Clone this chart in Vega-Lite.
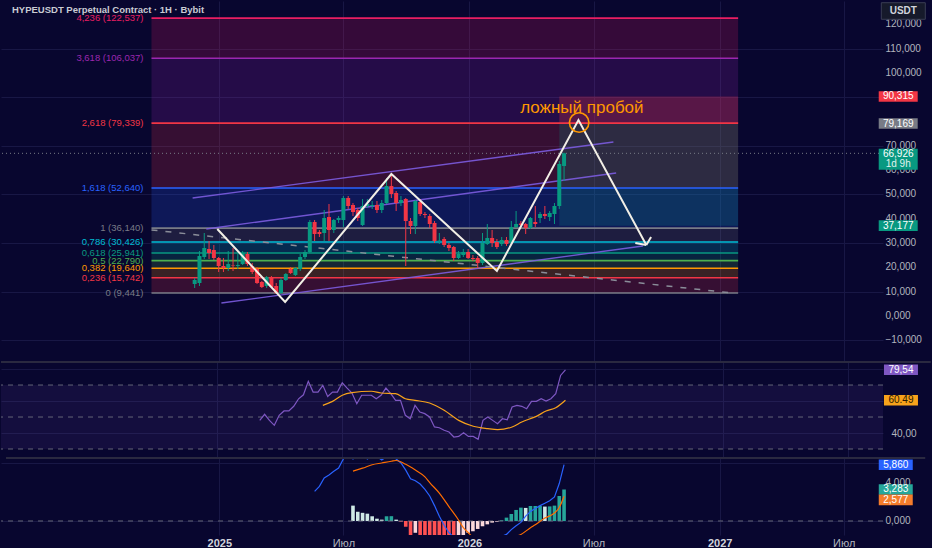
{
  "$schema": "https://vega.github.io/schema/vega-lite/v6.json",
  "background": "#08062f",
  "padding": 0,
  "spacing": 0,
  "config": {
    "view": {"stroke": null},
    "axis": {"labelFont": "Liberation Sans", "labelFontSize": 10, "labelColor": "#b2b5be", "gridColor": "#181745", "gridWidth": 1, "domain": false, "ticks": false, "labelOverlap": false},
    "text": {"font": "Liberation Sans"}
  },
  "datasets": {
    "candles": [
      {"d": "2024-11-26", "o": 13165, "h": 15633, "l": 11519, "c": 14810},
      {"d": "2024-12-03", "o": 13576, "h": 26741, "l": 12342, "c": 24684},
      {"d": "2024-12-10", "o": 24273, "h": 34146, "l": 23450, "c": 27975},
      {"d": "2024-12-17", "o": 27564, "h": 30855, "l": 23450, "c": 25918},
      {"d": "2024-12-24", "o": 27152, "h": 29209, "l": 23038, "c": 23861},
      {"d": "2024-12-31", "o": 23861, "h": 24273, "l": 18102, "c": 20570},
      {"d": "2025-01-07", "o": 20570, "h": 23861, "l": 18102, "c": 19747},
      {"d": "2025-01-14", "o": 19747, "h": 26741, "l": 18513, "c": 21393},
      {"d": "2025-01-21", "o": 20981, "h": 27975, "l": 18513, "c": 20776},
      {"d": "2025-01-28", "o": 20570, "h": 25507, "l": 19336, "c": 20981},
      {"d": "2025-02-04", "o": 21393, "h": 26741, "l": 20981, "c": 25918},
      {"d": "2025-02-11", "o": 25507, "h": 26330, "l": 20570, "c": 21393},
      {"d": "2025-02-18", "o": 20570, "h": 21804, "l": 17279, "c": 18102},
      {"d": "2025-02-25", "o": 19336, "h": 20159, "l": 13165, "c": 13576},
      {"d": "2025-03-04", "o": 13988, "h": 14399, "l": 11519, "c": 11931},
      {"d": "2025-03-11", "o": 12342, "h": 16456, "l": 11519, "c": 16045},
      {"d": "2025-03-18", "o": 15633, "h": 16456, "l": 11519, "c": 11931},
      {"d": "2025-03-25", "o": 12342, "h": 13576, "l": 9051, "c": 9462},
      {"d": "2025-04-01", "o": 9462, "h": 15633, "l": 9051, "c": 14810},
      {"d": "2025-04-08", "o": 14810, "h": 17690, "l": 14399, "c": 17279},
      {"d": "2025-04-15", "o": 19336, "h": 20159, "l": 17279, "c": 17690},
      {"d": "2025-04-22", "o": 16867, "h": 20159, "l": 16456, "c": 19747},
      {"d": "2025-04-29", "o": 19336, "h": 25507, "l": 18513, "c": 24273},
      {"d": "2025-05-06", "o": 24273, "h": 27152, "l": 23450, "c": 26330},
      {"d": "2025-05-13", "o": 26330, "h": 39494, "l": 25918, "c": 38672},
      {"d": "2025-05-20", "o": 38672, "h": 39494, "l": 30855, "c": 33735},
      {"d": "2025-05-27", "o": 34558, "h": 35380, "l": 32501, "c": 33735},
      {"d": "2025-06-03", "o": 34146, "h": 43608, "l": 30855, "c": 40317},
      {"d": "2025-06-10", "o": 40729, "h": 46077, "l": 30855, "c": 35380},
      {"d": "2025-06-17", "o": 35380, "h": 39906, "l": 34146, "c": 39494},
      {"d": "2025-06-24", "o": 39494, "h": 41140, "l": 38260, "c": 40317},
      {"d": "2025-07-01", "o": 39494, "h": 49368, "l": 36615, "c": 48545},
      {"d": "2025-07-08", "o": 48545, "h": 49368, "l": 44020, "c": 45254},
      {"d": "2025-07-15", "o": 45665, "h": 46488, "l": 41140, "c": 42786},
      {"d": "2025-07-22", "o": 43608, "h": 44431, "l": 39083, "c": 40317},
      {"d": "2025-07-29", "o": 37437, "h": 48134, "l": 37026, "c": 45254},
      {"d": "2025-08-05", "o": 45254, "h": 48134, "l": 44431, "c": 46077},
      {"d": "2025-08-12", "o": 45254, "h": 47311, "l": 44020, "c": 45665},
      {"d": "2025-08-19", "o": 45665, "h": 47311, "l": 42374, "c": 43608},
      {"d": "2025-08-26", "o": 43608, "h": 47722, "l": 42374, "c": 46488},
      {"d": "2025-09-02", "o": 46488, "h": 56773, "l": 46077, "c": 53482},
      {"d": "2025-09-09", "o": 53482, "h": 58419, "l": 48545, "c": 50191},
      {"d": "2025-09-16", "o": 50602, "h": 51425, "l": 43197, "c": 46488},
      {"d": "2025-09-23", "o": 46488, "h": 49368, "l": 45254, "c": 47722},
      {"d": "2025-09-30", "o": 48134, "h": 48545, "l": 20570, "c": 39083},
      {"d": "2025-10-07", "o": 39083, "h": 40317, "l": 33735, "c": 37026},
      {"d": "2025-10-14", "o": 37026, "h": 47722, "l": 33735, "c": 47311},
      {"d": "2025-10-21", "o": 46900, "h": 48134, "l": 41140, "c": 41963},
      {"d": "2025-10-28", "o": 41963, "h": 42786, "l": 40317, "c": 41551},
      {"d": "2025-11-04", "o": 41140, "h": 41963, "l": 36203, "c": 37849},
      {"d": "2025-11-11", "o": 38260, "h": 39083, "l": 30032, "c": 30855},
      {"d": "2025-11-18", "o": 31060, "h": 34146, "l": 29621, "c": 31266},
      {"d": "2025-11-25", "o": 31678, "h": 32501, "l": 28387, "c": 29209},
      {"d": "2025-12-02", "o": 29209, "h": 30032, "l": 26741, "c": 27975},
      {"d": "2025-12-09", "o": 28387, "h": 28798, "l": 22627, "c": 23861},
      {"d": "2025-12-16", "o": 23861, "h": 26741, "l": 23450, "c": 25507},
      {"d": "2025-12-23", "o": 25095, "h": 27564, "l": 24273, "c": 26330},
      {"d": "2025-12-30", "o": 26330, "h": 27564, "l": 23450, "c": 23861},
      {"d": "2026-01-06", "o": 23861, "h": 25095, "l": 22627, "c": 23450},
      {"d": "2026-01-13", "o": 23861, "h": 24684, "l": 19747, "c": 21804},
      {"d": "2026-01-20", "o": 21804, "h": 34146, "l": 20981, "c": 30032},
      {"d": "2026-01-27", "o": 29621, "h": 37849, "l": 29209, "c": 32089},
      {"d": "2026-02-03", "o": 32089, "h": 35380, "l": 28387, "c": 30032},
      {"d": "2026-02-10", "o": 30444, "h": 31678, "l": 27564, "c": 28387},
      {"d": "2026-02-17", "o": 29621, "h": 32501, "l": 28798, "c": 31266},
      {"d": "2026-02-24", "o": 31266, "h": 32501, "l": 28798, "c": 29621},
      {"d": "2026-03-03", "o": 30032, "h": 39083, "l": 29621, "c": 36615},
      {"d": "2026-03-10", "o": 36615, "h": 43197, "l": 36203, "c": 37849},
      {"d": "2026-03-17", "o": 38055, "h": 39083, "l": 36615, "c": 37437},
      {"d": "2026-03-24", "o": 37849, "h": 38260, "l": 33735, "c": 36203},
      {"d": "2026-03-31", "o": 36203, "h": 40729, "l": 35792, "c": 40317},
      {"d": "2026-04-07", "o": 38672, "h": 45254, "l": 36615, "c": 37849},
      {"d": "2026-04-14", "o": 40317, "h": 42786, "l": 38260, "c": 41963},
      {"d": "2026-04-21", "o": 41963, "h": 45254, "l": 39906, "c": 41140},
      {"d": "2026-04-28", "o": 40729, "h": 43197, "l": 39083, "c": 42374},
      {"d": "2026-05-05", "o": 41963, "h": 46488, "l": 37849, "c": 45254},
      {"d": "2026-05-12", "o": 45254, "h": 63767, "l": 44020, "c": 62533},
      {"d": "2026-05-19", "o": 61710, "h": 67182, "l": 55539, "c": 66926}
    ],
    "fib": [
      {"level": "0", "p": 9441, "label": "0 (9,441)"},
      {"level": "0.236", "p": 15742, "label": "0,236 (15,742)"},
      {"level": "0.382", "p": 19640, "label": "0,382 (19,640)"},
      {"level": "0.5", "p": 22790, "label": "0,5 (22,790)"},
      {"level": "0.618", "p": 25941, "label": "0,618 (25,941)"},
      {"level": "0.786", "p": 30426, "label": "0,786 (30,426)"},
      {"level": "1", "p": 36140, "label": "1 (36,140)"},
      {"level": "1.618", "p": 52640, "label": "1,618 (52,640)"},
      {"level": "2.618", "p": 79339, "label": "2,618 (79,339)"},
      {"level": "3.618", "p": 106037, "label": "3,618 (106,037)"},
      {"level": "4.236", "p": 122537, "label": "4,236 (122,537)"}
    ],
    "zones": [
      {"level": "0.236", "lo": 9441, "hi": 15742},
      {"level": "0.382", "lo": 15742, "hi": 19640},
      {"level": "0.5", "lo": 19640, "hi": 22790},
      {"level": "0.618", "lo": 22790, "hi": 25941},
      {"level": "0.786", "lo": 25941, "hi": 30426},
      {"level": "1", "lo": 30426, "hi": 36140},
      {"level": "1.618", "lo": 36140, "hi": 52640},
      {"level": "2.618", "lo": 52640, "hi": 79339},
      {"level": "3.618", "lo": 79339, "hi": 106037},
      {"level": "4.236", "lo": 106037, "hi": 122537}
    ],
    "pos": [
      {"kind": "stop", "lo": 79169, "hi": 90315},
      {"kind": "target", "lo": 37177, "hi": 79169}
    ],
    "lines": [
      {"id": "A", "d": "2024-11-23", "p": 48545}, {"id": "A", "d": "2026-07-30", "p": 71584},
      {"id": "B", "d": "2024-12-13", "p": 35792}, {"id": "B", "d": "2026-08-03", "p": 58830},
      {"id": "C", "d": "2025-01-04", "p": 5348}, {"id": "C", "d": "2026-09-11", "p": 28798},
      {"id": "D", "d": "2024-09-24", "p": 35400}, {"id": "D", "d": "2027-01-19", "p": 9462}
    ],
    "zig": [
      {"seg": "z", "o": 1, "d": "2024-12-29", "p": 35800},
      {"seg": "z", "o": 2, "d": "2025-04-07", "p": 5760},
      {"seg": "z", "o": 3, "d": "2025-09-09", "p": 58419},
      {"seg": "z", "o": 4, "d": "2026-02-10", "p": 18513},
      {"seg": "z", "o": 5, "d": "2026-06-09", "p": 80634},
      {"seg": "z", "o": 6, "d": "2026-09-16", "p": 29209},
      {"seg": "a1", "o": 1, "d": "2026-08-31", "p": 30032},
      {"seg": "a1", "o": 2, "d": "2026-09-16", "p": 29209},
      {"seg": "a2", "o": 1, "d": "2026-09-23", "p": 32501},
      {"seg": "a2", "o": 2, "d": "2026-09-16", "p": 29209}
    ],
    "yticks": [
      {"v": -10000, "t": "−10,000"}, {"v": 0, "t": "0,000"}, {"v": 10000, "t": "10,000"},
      {"v": 20000, "t": "20,000"}, {"v": 30000, "t": "30,000"}, {"v": 40000, "t": "40,000"},
      {"v": 50000, "t": "50,000"}, {"v": 60000, "t": "60,000"}, {"v": 70000, "t": "70,000"},
      {"v": 100000, "t": "100,000"}, {"v": 110000, "t": "110,000"}, {"v": 120000, "t": "120,000"}
    ],
    "badges": [
      {"p": 90315, "t": "90,315", "k": "s"},
      {"p": 79169, "t": "79,169", "k": "e"},
      {"p": 37177, "t": "37,177", "k": "g"}
    ],
    "rsi": [
      {"d": "2025-03-04", "v": 47.9}, {"d": "2025-03-11", "v": 51.7}, {"d": "2025-03-18", "v": 47.9},
      {"d": "2025-03-25", "v": 44.8}, {"d": "2025-04-01", "v": 51.1}, {"d": "2025-04-08", "v": 53.8},
      {"d": "2025-04-15", "v": 53.8}, {"d": "2025-04-22", "v": 56.7}, {"d": "2025-04-29", "v": 61.4},
      {"d": "2025-05-06", "v": 63.9}, {"d": "2025-05-13", "v": 72.3}, {"d": "2025-05-20", "v": 65.6},
      {"d": "2025-05-27", "v": 65.6}, {"d": "2025-06-03", "v": 69.8}, {"d": "2025-06-10", "v": 62.9},
      {"d": "2025-06-17", "v": 65.6}, {"d": "2025-06-24", "v": 65.6}, {"d": "2025-07-01", "v": 71.4},
      {"d": "2025-07-08", "v": 68.1}, {"d": "2025-07-15", "v": 65.0}, {"d": "2025-07-22", "v": 58.3},
      {"d": "2025-07-29", "v": 63.6}, {"d": "2025-08-05", "v": 63.6}, {"d": "2025-08-12", "v": 63.6},
      {"d": "2025-08-19", "v": 61.4}, {"d": "2025-08-26", "v": 63.6}, {"d": "2025-09-02", "v": 68.1},
      {"d": "2025-09-09", "v": 64.6}, {"d": "2025-09-16", "v": 60.4}, {"d": "2025-09-23", "v": 60.4},
      {"d": "2025-09-30", "v": 51.1}, {"d": "2025-10-07", "v": 48.9}, {"d": "2025-10-14", "v": 57.3},
      {"d": "2025-10-21", "v": 53.1}, {"d": "2025-10-28", "v": 52.1}, {"d": "2025-11-04", "v": 50.0},
      {"d": "2025-11-11", "v": 43.8}, {"d": "2025-11-18", "v": 43.3}, {"d": "2025-11-25", "v": 41.7},
      {"d": "2025-12-02", "v": 40.6}, {"d": "2025-12-09", "v": 37.5}, {"d": "2025-12-16", "v": 37.9},
      {"d": "2025-12-23", "v": 40.2}, {"d": "2025-12-30", "v": 37.9}, {"d": "2026-01-06", "v": 37.9},
      {"d": "2026-01-13", "v": 36.1}, {"d": "2026-01-20", "v": 47.9}, {"d": "2026-01-27", "v": 50.0},
      {"d": "2026-02-03", "v": 47.9}, {"d": "2026-02-10", "v": 45.8}, {"d": "2026-02-17", "v": 48.9},
      {"d": "2026-02-24", "v": 48.3}, {"d": "2026-03-03", "v": 56.3}, {"d": "2026-03-10", "v": 57.3},
      {"d": "2026-03-17", "v": 56.7}, {"d": "2026-03-24", "v": 55.2}, {"d": "2026-03-31", "v": 59.8},
      {"d": "2026-04-07", "v": 59.8}, {"d": "2026-04-14", "v": 61.4}, {"d": "2026-04-21", "v": 60.0},
      {"d": "2026-04-28", "v": 61.4}, {"d": "2026-05-05", "v": 64.6}, {"d": "2026-05-12", "v": 76.0},
      {"d": "2026-05-19", "v": 79.54}
    ],
    "rsima": [
      {"d": "2025-06-03", "v": 57.3}, {"d": "2025-06-17", "v": 59.8}, {"d": "2025-07-01", "v": 63.6},
      {"d": "2025-07-15", "v": 65.2}, {"d": "2025-08-12", "v": 66.1}, {"d": "2025-08-26", "v": 65.0},
      {"d": "2025-09-16", "v": 64.6}, {"d": "2025-09-30", "v": 61.4}, {"d": "2025-10-14", "v": 60.4},
      {"d": "2025-11-04", "v": 58.75}, {"d": "2025-11-25", "v": 54.2}, {"d": "2025-12-16", "v": 47.9},
      {"d": "2026-01-06", "v": 44.2}, {"d": "2026-01-27", "v": 42.7}, {"d": "2026-02-10", "v": 42.1},
      {"d": "2026-03-03", "v": 43.75}, {"d": "2026-03-17", "v": 46.9}, {"d": "2026-04-07", "v": 50.4},
      {"d": "2026-04-21", "v": 53.75}, {"d": "2026-05-05", "v": 55.8}, {"d": "2026-05-19", "v": 60.49}
    ],
    "rsilv": [{"v": 70}, {"v": 50}, {"v": 30}],
    "rsib": [
      {"p": 79.54, "t": "79,54", "k": "rsi"},
      {"p": 60.49, "t": "60.49", "k": "ma"}
    ],
    "macd": [
      {"d": "2025-05-20", "v": 3.09}, {"d": "2025-05-27", "v": 3.61}, {"d": "2025-06-03", "v": 4.48},
      {"d": "2025-06-10", "v": 4.79}, {"d": "2025-06-17", "v": 5.18}, {"d": "2025-06-24", "v": 5.52},
      {"d": "2025-07-01", "v": 6.46}, {"d": "2025-07-08", "v": 7.0}, {"d": "2025-07-15", "v": 6.45},
      {"d": "2025-07-22", "v": 6.8}, {"d": "2025-07-29", "v": 6.9}, {"d": "2025-08-05", "v": 6.45},
      {"d": "2025-08-12", "v": 6.8}, {"d": "2025-08-19", "v": 6.7}, {"d": "2025-08-26", "v": 6.35},
      {"d": "2025-09-02", "v": 6.7}, {"d": "2025-09-09", "v": 6.9}, {"d": "2025-09-16", "v": 6.45},
      {"d": "2025-09-23", "v": 6.04}, {"d": "2025-09-30", "v": 5.3}, {"d": "2025-10-07", "v": 4.4},
      {"d": "2025-10-14", "v": 4.2}, {"d": "2025-10-21", "v": 3.85}, {"d": "2025-10-28", "v": 3.3},
      {"d": "2025-11-04", "v": 2.6}, {"d": "2025-11-11", "v": 1.6}, {"d": "2025-11-18", "v": 0.5},
      {"d": "2025-11-25", "v": -0.45}, {"d": "2025-12-02", "v": -1.2}, {"d": "2025-12-09", "v": -1.7},
      {"d": "2025-12-16", "v": -2.2}, {"d": "2025-12-23", "v": -2.6}, {"d": "2025-12-30", "v": -2.8},
      {"d": "2026-01-06", "v": -2.9}, {"d": "2026-01-13", "v": -2.9}, {"d": "2026-01-20", "v": -2.7},
      {"d": "2026-01-27", "v": -2.4}, {"d": "2026-02-03", "v": -2.0}, {"d": "2026-02-10", "v": -1.8},
      {"d": "2026-02-17", "v": -1.6}, {"d": "2026-02-24", "v": -1.4}, {"d": "2026-03-03", "v": -0.9},
      {"d": "2026-03-10", "v": -0.5}, {"d": "2026-03-17", "v": -0.15}, {"d": "2026-03-24", "v": 0.5},
      {"d": "2026-03-31", "v": 1.0}, {"d": "2026-04-07", "v": 1.3}, {"d": "2026-04-14", "v": 1.6},
      {"d": "2026-04-21", "v": 1.85}, {"d": "2026-04-28", "v": 2.1}, {"d": "2026-05-05", "v": 2.5},
      {"d": "2026-05-12", "v": 3.9}, {"d": "2026-05-19", "v": 5.86}
    ],
    "signal": [
      {"d": "2025-07-15", "v": 5.2}, {"d": "2025-07-29", "v": 5.5}, {"d": "2025-08-12", "v": 5.86},
      {"d": "2025-08-26", "v": 6.04}, {"d": "2025-09-09", "v": 6.22}, {"d": "2025-09-16", "v": 6.3},
      {"d": "2025-09-30", "v": 5.9}, {"d": "2025-10-14", "v": 5.3}, {"d": "2025-10-28", "v": 4.6},
      {"d": "2025-11-04", "v": 4.0}, {"d": "2025-11-18", "v": 2.9}, {"d": "2025-11-25", "v": 2.22},
      {"d": "2025-12-02", "v": 1.5}, {"d": "2025-12-16", "v": 0.1}, {"d": "2025-12-23", "v": -0.7},
      {"d": "2025-12-30", "v": -1.2}, {"d": "2026-01-06", "v": -1.7}, {"d": "2026-01-20", "v": -2.3},
      {"d": "2026-02-10", "v": -2.6}, {"d": "2026-02-24", "v": -2.2}, {"d": "2026-03-10", "v": -1.6},
      {"d": "2026-03-17", "v": -1.4}, {"d": "2026-03-31", "v": -0.7}, {"d": "2026-04-07", "v": -0.4},
      {"d": "2026-04-21", "v": 0.3}, {"d": "2026-05-05", "v": 0.83}, {"d": "2026-05-12", "v": 1.4},
      {"d": "2026-05-19", "v": 2.577}
    ],
    "hist": [
      {"d": "2025-07-15", "h": 1.6, "c": "pd"}, {"d": "2025-07-22", "h": 0.96, "c": "pd"},
      {"d": "2025-07-29", "h": 0.85, "c": "pd"}, {"d": "2025-08-05", "h": 0.76, "c": "pd"},
      {"d": "2025-08-12", "h": 0.49, "c": "pd"}, {"d": "2025-08-19", "h": 0.24, "c": "pd"},
      {"d": "2025-08-26", "h": 0.14, "c": "pd"}, {"d": "2025-09-02", "h": 0.49, "c": "pu"},
      {"d": "2025-09-09", "h": 0.5, "c": "pu"}, {"d": "2025-09-16", "h": 0.14, "c": "pd"},
      {"d": "2025-09-23", "h": -0.07, "c": "nd"}, {"d": "2025-09-30", "h": -0.6, "c": "nd"},
      {"d": "2025-10-07", "h": -1.6, "c": "nd"}, {"d": "2025-10-14", "h": -1.23, "c": "nu"},
      {"d": "2025-10-21", "h": -1.8, "c": "nd"}, {"d": "2025-10-28", "h": -2.0, "c": "nd"},
      {"d": "2025-11-04", "h": -2.2, "c": "nd"}, {"d": "2025-11-11", "h": -2.4, "c": "nd"},
      {"d": "2025-11-18", "h": -2.6, "c": "nd"}, {"d": "2025-11-25", "h": -2.8, "c": "nd"},
      {"d": "2025-12-02", "h": -2.9, "c": "nd"}, {"d": "2025-12-09", "h": -3.0, "c": "nd"},
      {"d": "2025-12-16", "h": -2.0, "c": "nu"}, {"d": "2025-12-23", "h": -1.6, "c": "nu"},
      {"d": "2025-12-30", "h": -1.23, "c": "nu"}, {"d": "2026-01-06", "h": -1.07, "c": "nu"},
      {"d": "2026-01-13", "h": -0.83, "c": "nu"}, {"d": "2026-01-20", "h": -0.55, "c": "nu"},
      {"d": "2026-01-27", "h": -0.35, "c": "nu"}, {"d": "2026-02-03", "h": -0.17, "c": "nu"},
      {"d": "2026-02-10", "h": -0.07, "c": "nu"}, {"d": "2026-02-17", "h": 0.07, "c": "pu"},
      {"d": "2026-02-24", "h": 0.35, "c": "pu"}, {"d": "2026-03-03", "h": 0.73, "c": "pu"},
      {"d": "2026-03-10", "h": 1.15, "c": "pu"}, {"d": "2026-03-17", "h": 1.39, "c": "pu"},
      {"d": "2026-03-24", "h": 1.36, "c": "pd"}, {"d": "2026-03-31", "h": 1.56, "c": "pu"},
      {"d": "2026-04-07", "h": 1.56, "c": "pu"}, {"d": "2026-04-14", "h": 1.58, "c": "pu"},
      {"d": "2026-04-21", "h": 1.5, "c": "pd"}, {"d": "2026-04-28", "h": 1.52, "c": "pu"},
      {"d": "2026-05-05", "h": 1.6, "c": "pu"}, {"d": "2026-05-12", "h": 2.6, "c": "pu"},
      {"d": "2026-05-19", "h": 3.28, "c": "pu"}
    ],
    "macdticks": [{"v": 0, "t": "0,000"}, {"v": 4, "t": "4,000"}],
    "macdb": [
      {"p": 5.86, "t": "5,860", "k": "m"},
      {"p": 3.283, "t": "3,283", "k": "h"},
      {"p": 2.2, "t": "2,577", "k": "s"}
    ]
  },
  "vconcat": [
    {
      "width": 882,
      "height": 360,
      "data": {"values": [{}]},
      "layer": [
        {
          "data": {"name": "zones"},
          "mark": {"type": "rect", "opacity": 0.2},
          "encoding": {
            "x": {"datum": {"year": 2024, "month": 9, "date": 24, "utc": true}, "type": "temporal"},
            "x2": {"datum": {"year": 2027, "month": 1, "date": 28, "utc": true}},
            "y": {"field": "lo", "type": "quantitative", "scale": {"domain": [-18513, 129591], "nice": false, "zero": false},
              "axis": {"orient": "right", "title": null, "labels": false, "values": [-10000, 0, 10000, 20000, 30000, 40000, 50000, 60000, 70000, 80000, 90000, 100000, 110000, 120000],
                "grid": true, "minExtent": 48, "maxExtent": 48}},
            "y2": {"field": "hi"},
            "color": {"field": "level", "type": "nominal", "legend": null,
              "scale": {"domain": ["0", "0.236", "0.382", "0.5", "0.618", "0.786", "1", "1.618", "2.618", "3.618", "4.236"],
                "range": ["#787b86", "#f23645", "#ff9800", "#4caf50", "#089981", "#00bcd4", "#787b86", "#2962ff", "#f23645", "#9c27b0", "#e91e63"]}}
          }
        },
        {
          "data": {"name": "pos"},
          "mark": {"type": "rect"},
          "encoding": {
            "x": {"datum": {"year": 2026, "month": 5, "date": 12, "utc": true}, "type": "temporal"},
            "x2": {"datum": {"year": 2027, "month": 1, "date": 28, "utc": true}},
            "y": {"field": "lo", "type": "quantitative"},
            "y2": {"field": "hi"},
            "color": {"condition": {"test": "datum.kind == 'stop'", "value": "#f23645"}, "value": "#089981"},
            "opacity": {"condition": {"test": "datum.kind == 'stop'", "value": 0.25}, "value": 0.2}
          }
        },
        {
          "data": {"name": "fib"},
          "mark": {"type": "rule", "strokeWidth": 1.6},
          "encoding": {
            "x": {"datum": {"year": 2024, "month": 9, "date": 24, "utc": true}, "type": "temporal"},
            "x2": {"datum": {"year": 2027, "month": 1, "date": 28, "utc": true}},
            "y": {"field": "p", "type": "quantitative"},
            "color": {"field": "level", "type": "nominal", "legend": null}
          }
        },
        {
          "data": {"name": "fib"},
          "mark": {"type": "text", "align": "right", "baseline": "middle", "dx": -8, "fontSize": 9.5},
          "encoding": {
            "x": {"datum": {"year": 2024, "month": 9, "date": 24, "utc": true}, "type": "temporal"},
            "y": {"field": "p", "type": "quantitative"},
            "text": {"field": "label"},
            "color": {"field": "level", "type": "nominal", "legend": null}
          }
        },
        {
          "mark": {"type": "rule", "color": "#787b86", "strokeDash": [1, 3], "strokeWidth": 1},
          "encoding": {"y": {"datum": 66926, "type": "quantitative"}}
        },
        {
          "data": {"name": "lines"},
          "transform": [{"filter": "datum.id != 'D'"}],
          "mark": {"type": "line", "color": "#7c5ce0", "strokeWidth": 1.3, "opacity": 0.9},
          "encoding": {
            "x": {"field": "d", "type": "temporal"},
            "y": {"field": "p", "type": "quantitative"},
            "detail": {"field": "id"}
          }
        },
        {
          "data": {"name": "lines"},
          "transform": [{"filter": "datum.id == 'D'"}],
          "mark": {"type": "line", "color": "#8a8d99", "strokeWidth": 1.5, "strokeDash": [6, 8]},
          "encoding": {
            "x": {"field": "d", "type": "temporal"},
            "y": {"field": "p", "type": "quantitative"}
          }
        },
        {
          "data": {"name": "candles"},
          "mark": {"type": "rule", "strokeWidth": 1},
          "encoding": {
            "x": {"field": "d", "type": "temporal",
              "scale": {"type": "utc", "domain": [{"year": 2024, "month": 2, "date": 24, "hours": 17, "utc": true}, {"year": 2027, "month": 8, "date": 20, "hours": 2, "utc": true}]},
              "axis": {"title": null, "labels": false, "grid": true, "minExtent": 0, "maxExtent": 0,
                "values": [{"year": 2025, "month": 1, "date": 1, "utc": true}, {"year": 2025, "month": 7, "date": 1, "utc": true}, {"year": 2026, "month": 1, "date": 1, "utc": true}, {"year": 2026, "month": 7, "date": 1, "utc": true}, {"year": 2027, "month": 1, "date": 1, "utc": true}, {"year": 2027, "month": 7, "date": 1, "utc": true}]}},
            "y": {"field": "l", "type": "quantitative"},
            "y2": {"field": "h"},
            "color": {"condition": {"test": "datum.c >= datum.o", "value": "#089981"}, "value": "#f23645"}
          }
        },
        {
          "data": {"name": "candles"},
          "mark": {"type": "bar", "size": 4},
          "encoding": {
            "x": {"field": "d", "type": "temporal"},
            "y": {"field": "o", "type": "quantitative"},
            "y2": {"field": "c"},
            "color": {"condition": {"test": "datum.c >= datum.o", "value": "#089981"}, "value": "#f23645"}
          }
        },
        {
          "data": {"name": "zig"},
          "mark": {"type": "line", "color": "#f2efe6", "strokeWidth": 2},
          "encoding": {
            "x": {"field": "d", "type": "temporal"},
            "y": {"field": "p", "type": "quantitative"},
            "detail": {"field": "seg"},
            "order": {"field": "o"}
          }
        },
        {
          "mark": {"type": "point", "shape": "circle", "filled": false, "size": 380, "color": "#ff9800", "strokeWidth": 1.6, "opacity": 1},
          "encoding": {
            "x": {"datum": {"year": 2026, "month": 6, "date": 10, "utc": true}, "type": "temporal"},
            "y": {"datum": 79606, "type": "quantitative"}
          }
        },
        {
          "mark": {"type": "text", "color": "#ff9800", "fontSize": 17, "align": "center", "baseline": "middle"},
          "encoding": {
            "x": {"datum": {"year": 2026, "month": 6, "date": 14, "utc": true}, "type": "temporal"},
            "y": {"datum": 85571, "type": "quantitative"},
            "text": {"value": "ложный пробой"}
          }
        },
        {
          "mark": {"type": "text", "color": "#c9cbd3", "fontSize": 9.5, "fontWeight": "bold", "align": "left", "baseline": "middle", "dx": 6},
          "encoding": {
            "x": {"datum": {"year": 2024, "month": 2, "date": 24, "hours": 17, "utc": true}, "type": "temporal"},
            "y": {"datum": 125900, "type": "quantitative"},
            "text": {"value": "HYPEUSDT Perpetual Contract · 1H · Bybit"}
          }
        },
        {
          "data": {"name": "yticks"},
          "mark": {"type": "text", "color": "#b2b5be", "fontSize": 10, "align": "left", "baseline": "middle"},
          "encoding": {
            "x": {"datum": {"year": 2027, "month": 8, "date": 31, "utc": true}, "type": "temporal"},
            "y": {"field": "v", "type": "quantitative"},
            "text": {"field": "t"}
          }
        },
        {
          "data": {"name": "badges"},
          "mark": {"type": "point", "shape": "M-1,-0.27H1V0.27H-1Z", "size": 1521, "filled": true, "opacity": 1},
          "encoding": {
            "x": {"datum": {"year": 2027, "month": 9, "date": 18, "hours": 14, "utc": true}, "type": "temporal"},
            "y": {"field": "p", "type": "quantitative"},
            "color": {"condition": [{"test": "datum.k == 's'", "value": "#f23645"}, {"test": "datum.k == 'e'", "value": "#787b86"}], "value": "#089981"}
          }
        },
        {
          "data": {"name": "badges"},
          "mark": {"type": "text", "color": "#ffffff", "fontSize": 10, "align": "center", "baseline": "middle"},
          "encoding": {
            "x": {"datum": {"year": 2027, "month": 9, "date": 18, "hours": 14, "utc": true}, "type": "temporal"},
            "y": {"field": "p", "type": "quantitative"},
            "text": {"field": "t"}
          }
        },
        {
          "mark": {"type": "point", "shape": "M-1,-0.54H1V0.54H-1Z", "size": 1521, "filled": true, "opacity": 1, "color": "#089981"},
          "encoding": {
            "x": {"datum": {"year": 2027, "month": 9, "date": 18, "hours": 14, "utc": true}, "type": "temporal"},
            "y": {"datum": 64466, "type": "quantitative"}
          }
        },
        {
          "mark": {"type": "text", "color": "#ffffff", "fontSize": 10, "align": "center", "baseline": "middle"},
          "encoding": {
            "x": {"datum": {"year": 2027, "month": 9, "date": 18, "hours": 14, "utc": true}, "type": "temporal"},
            "y": {"datum": 66525, "type": "quantitative"},
            "text": {"value": "66,926"}
          }
        },
        {
          "mark": {"type": "text", "color": "#e0f2ef", "fontSize": 10, "align": "center", "baseline": "middle"},
          "encoding": {
            "x": {"datum": {"year": 2027, "month": 9, "date": 18, "hours": 14, "utc": true}, "type": "temporal"},
            "y": {"datum": 62656, "type": "quantitative"},
            "text": {"value": "1d 9h"}
          }
        },
        {
          "mark": {"type": "point", "shape": "M-1,-0.377H1V0.377H-1Z", "size": 1936, "filled": true, "opacity": 1, "color": "#161a2b", "stroke": "#3a3e54", "strokeWidth": 1},
          "encoding": {
            "x": {"datum": {"year": 2027, "month": 9, "date": 26, "utc": true}, "type": "temporal"},
            "y": {"datum": 125477, "type": "quantitative"}
          }
        },
        {
          "mark": {"type": "text", "color": "#d1d4dc", "fontSize": 10, "fontWeight": "bold", "align": "center", "baseline": "middle"},
          "encoding": {
            "x": {"datum": {"year": 2027, "month": 9, "date": 26, "utc": true}, "type": "temporal"},
            "y": {"datum": 125477, "type": "quantitative"},
            "text": {"value": "USDT"}
          }
        }
      ]
    },
    {
      "width": 882,
      "height": 95,
      "data": {"values": [{}]},
      "layer": [
        {
          "mark": {"type": "rect", "color": "#7e57c2", "opacity": 0.1},
          "encoding": {
            "x": {"datum": {"year": 2024, "month": 2, "date": 24, "hours": 17, "utc": true}, "type": "temporal",
              "scale": {"type": "utc", "domain": [{"year": 2024, "month": 2, "date": 24, "hours": 17, "utc": true}, {"year": 2027, "month": 8, "date": 20, "hours": 2, "utc": true}]},
              "axis": {"title": null, "labels": false, "grid": true, "minExtent": 0, "maxExtent": 0,
                "values": [{"year": 2025, "month": 1, "date": 1, "utc": true}, {"year": 2025, "month": 7, "date": 1, "utc": true}, {"year": 2026, "month": 1, "date": 1, "utc": true}, {"year": 2026, "month": 7, "date": 1, "utc": true}, {"year": 2027, "month": 1, "date": 1, "utc": true}, {"year": 2027, "month": 7, "date": 1, "utc": true}]}},
            "x2": {"datum": {"year": 2027, "month": 8, "date": 20, "hours": 2, "utc": true}},
            "y": {"datum": 30, "type": "quantitative", "scale": {"domain": [25, 84.4], "nice": false, "zero": false},
              "axis": {"orient": "right", "title": null, "values": [40, 60, 80], "labelExpr": "datum.value == 40 ? '40,00' : ''", "grid": true, "labelPadding": 8, "minExtent": 48, "maxExtent": 48}},
            "y2": {"datum": 70}
          }
        },
        {
          "data": {"name": "rsilv"},
          "mark": {"type": "rule", "color": "#787b86", "strokeDash": [5, 5], "strokeWidth": 1, "opacity": 0.8},
          "encoding": {"y": {"field": "v", "type": "quantitative"}}
        },
        {
          "data": {"name": "rsi"},
          "mark": {"type": "line", "color": "#7e57c2", "strokeWidth": 1.2},
          "encoding": {
            "x": {"field": "d", "type": "temporal"},
            "y": {"field": "v", "type": "quantitative"}
          }
        },
        {
          "data": {"name": "rsima"},
          "mark": {"type": "line", "color": "#f7a21b", "strokeWidth": 1.2, "interpolate": "monotone"},
          "encoding": {
            "x": {"field": "d", "type": "temporal"},
            "y": {"field": "v", "type": "quantitative"}
          }
        },
        {
          "mark": {"type": "rule", "color": "#2a2940", "strokeWidth": 2},
          "encoding": {
            "x": {"datum": {"year": 2024, "month": 2, "date": 24, "hours": 17, "utc": true}, "type": "temporal"},
            "x2": {"datum": {"year": 2027, "month": 10, "date": 28, "utc": true}},
            "y": {"datum": 84.4, "type": "quantitative"}
          }
        },
        {
          "data": {"name": "rsib"},
          "mark": {"type": "point", "shape": "M-1,-0.31H1V0.31H-1Z", "size": 1156, "filled": true, "opacity": 1},
          "encoding": {
            "x": {"datum": {"year": 2027, "month": 9, "date": 15, "utc": true}, "type": "temporal"},
            "y": {"field": "p", "type": "quantitative"},
            "color": {"condition": {"test": "datum.k == 'rsi'", "value": "#7e57c2"}, "value": "#f7a21b"}
          }
        },
        {
          "data": {"name": "rsib"},
          "mark": {"type": "text", "fontSize": 10, "align": "center", "baseline": "middle"},
          "encoding": {
            "x": {"datum": {"year": 2027, "month": 9, "date": 15, "utc": true}, "type": "temporal"},
            "y": {"field": "p", "type": "quantitative"},
            "text": {"field": "t"},
            "color": {"condition": {"test": "datum.k == 'rsi'", "value": "#ffffff"}, "value": "#2a1a00"}
          }
        }
      ]
    },
    {
      "width": 882,
      "height": 77,
      "data": {"values": [{}]},
      "layer": [
        {
          "data": {"name": "hist"},
          "mark": {"type": "bar", "size": 3.6, "clip": true},
          "encoding": {
            "x": {"field": "d", "type": "temporal",
              "scale": {"type": "utc", "domain": [{"year": 2024, "month": 2, "date": 24, "hours": 17, "utc": true}, {"year": 2027, "month": 8, "date": 20, "hours": 2, "utc": true}]},
              "axis": {"title": null, "grid": true, "labelPadding": 2, "labelFontSize": 11,
                "values": [{"year": 2025, "month": 1, "date": 1, "utc": true}, {"year": 2025, "month": 7, "date": 1, "utc": true}, {"year": 2026, "month": 1, "date": 1, "utc": true}, {"year": 2026, "month": 7, "date": 1, "utc": true}, {"year": 2027, "month": 1, "date": 1, "utc": true}, {"year": 2027, "month": 7, "date": 1, "utc": true}],
                "labelExpr": "utcmonth(datum.value) == 0 ? utcFormat(datum.value, '%Y') : 'Июл'",
                "labelFontWeight": {"condition": {"test": "utcmonth(datum.value) == 0", "value": "bold"}, "value": "normal"},
                "labelColor": {"condition": {"test": "utcmonth(datum.value) == 0", "value": "#d1d4dc"}, "value": "#b2b5be"}}},
            "y": {"field": "h", "type": "quantitative", "scale": {"domain": [-1.46, 6.56], "nice": false, "zero": false},
              "axis": {"orient": "right", "title": null, "labels": false, "values": [0, 2, 4, 6], "grid": true, "minExtent": 48, "maxExtent": 48}},
            "y2": {"datum": 0},
            "color": {"condition": [{"test": "datum.c == 'pu'", "value": "#26a69a"}, {"test": "datum.c == 'pd'", "value": "#cfe9e6"}, {"test": "datum.c == 'nd'", "value": "#ff5252"}], "value": "#fbd9dc"}
          }
        },
        {
          "mark": {"type": "rule", "color": "#787b86", "strokeDash": [5, 5], "strokeWidth": 1, "opacity": 0.8},
          "encoding": {"y": {"datum": 0, "type": "quantitative"}}
        },
        {
          "data": {"name": "macd"},
          "mark": {"type": "line", "color": "#2962ff", "strokeWidth": 1.2, "clip": true},
          "encoding": {
            "x": {"field": "d", "type": "temporal"},
            "y": {"field": "v", "type": "quantitative"}
          }
        },
        {
          "data": {"name": "signal"},
          "mark": {"type": "line", "color": "#ff6d00", "strokeWidth": 1.2, "clip": true, "interpolate": "monotone"},
          "encoding": {
            "x": {"field": "d", "type": "temporal"},
            "y": {"field": "v", "type": "quantitative"}
          }
        },
        {
          "mark": {"type": "rule", "color": "#2a2940", "strokeWidth": 2},
          "encoding": {
            "x": {"datum": {"year": 2024, "month": 2, "date": 24, "hours": 17, "utc": true}, "type": "temporal"},
            "x2": {"datum": {"year": 2027, "month": 10, "date": 28, "utc": true}},
            "y": {"datum": 6.56, "type": "quantitative"}
          }
        },
        {
          "data": {"name": "macdticks"},
          "mark": {"type": "text", "color": "#b2b5be", "fontSize": 10, "align": "left", "baseline": "middle"},
          "encoding": {
            "x": {"datum": {"year": 2027, "month": 8, "date": 31, "utc": true}, "type": "temporal"},
            "y": {"field": "v", "type": "quantitative"},
            "text": {"field": "t"}
          }
        },
        {
          "data": {"name": "macdb"},
          "mark": {"type": "point", "shape": "M-1,-0.31H1V0.31H-1Z", "size": 1156, "filled": true, "opacity": 1},
          "encoding": {
            "x": {"datum": {"year": 2027, "month": 9, "date": 15, "utc": true}, "type": "temporal"},
            "y": {"field": "p", "type": "quantitative"},
            "color": {"condition": [{"test": "datum.k == 'm'", "value": "#2962ff"}, {"test": "datum.k == 'h'", "value": "#26a69a"}], "value": "#f57c2b"}
          }
        },
        {
          "data": {"name": "macdb"},
          "mark": {"type": "text", "fontSize": 10, "align": "center", "baseline": "middle", "color": "#ffffff"},
          "encoding": {
            "x": {"datum": {"year": 2027, "month": 9, "date": 15, "utc": true}, "type": "temporal"},
            "y": {"field": "p", "type": "quantitative"},
            "text": {"field": "t"}
          }
        }
      ]
    }
  ]
}
